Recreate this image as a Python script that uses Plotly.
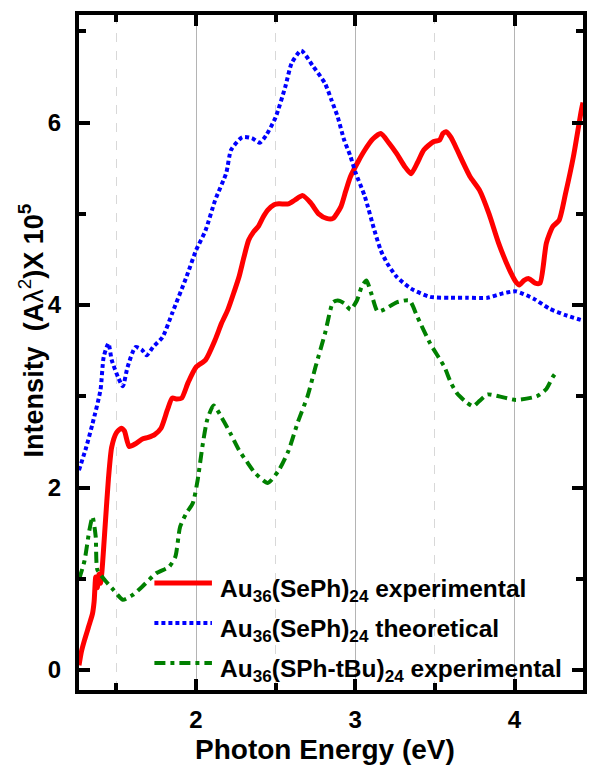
import plotly.graph_objects as go

# Red: Au36(SePh)24 experimental
red_x = [1.265, 1.28, 1.30, 1.33, 1.35, 1.36, 1.37, 1.38, 1.39, 1.40, 1.41, 1.43, 1.45, 1.47, 1.50,
         1.53, 1.55, 1.58, 1.62, 1.66, 1.70, 1.74, 1.78, 1.82, 1.85, 1.88, 1.91, 1.95, 2.00, 2.06,
         2.12, 2.16, 2.20, 2.24, 2.27, 2.30, 2.33, 2.36, 2.39, 2.42, 2.45, 2.49, 2.52, 2.58, 2.62,
         2.67, 2.72, 2.77, 2.82, 2.86, 2.91, 2.94, 2.97, 3.02, 3.06, 3.11, 3.16, 3.21, 3.26, 3.31,
         3.35, 3.39, 3.43, 3.49, 3.53, 3.55, 3.57, 3.60, 3.64, 3.68, 3.72, 3.78, 3.84, 3.90, 3.97,
         4.01, 4.03, 4.06, 4.09, 4.13, 4.16, 4.20, 4.24, 4.28, 4.32, 4.37, 4.42, 4.43]
red_y = [0.05, 0.20, 0.33, 0.50, 0.62, 0.75, 1.02, 0.90, 1.05, 0.95, 1.10, 1.60, 2.10, 2.44, 2.60,
         2.65, 2.62, 2.45, 2.48, 2.53, 2.55, 2.58, 2.65, 2.85, 2.98, 2.97, 2.98, 3.15, 3.32, 3.40,
         3.62, 3.80, 3.95, 4.15, 4.31, 4.52, 4.71, 4.80, 4.86, 4.96, 5.04, 5.10, 5.11, 5.11, 5.15,
         5.20, 5.12, 5.00, 4.95, 4.95, 5.08, 5.25, 5.41, 5.58, 5.70, 5.82, 5.88, 5.78, 5.66, 5.52,
         5.44, 5.56, 5.70, 5.79, 5.81, 5.88, 5.90, 5.84, 5.70, 5.55, 5.41, 5.26, 5.00, 4.68, 4.38,
         4.25, 4.22, 4.27, 4.29, 4.24, 4.24, 4.68, 4.86, 4.93, 5.22, 5.63, 6.14, 6.22]

# Blue: Au36(SePh)24 theoretical
blue_x = [1.265, 1.31, 1.35, 1.40, 1.42, 1.45, 1.47, 1.51, 1.54, 1.57, 1.62, 1.66, 1.69, 1.73, 1.79,
          1.85, 1.94, 2.00, 2.06, 2.12, 2.19, 2.22, 2.29, 2.35, 2.40, 2.44, 2.50, 2.56, 2.60, 2.66,
          2.73, 2.81, 2.85, 2.89, 2.93, 2.97, 3.00, 3.06, 3.12, 3.16, 3.20, 3.26, 3.35, 3.47, 3.60,
          3.70, 3.83, 3.93, 4.01, 4.12, 4.22, 4.32, 4.43]
blue_y = [2.19, 2.44, 2.70, 3.07, 3.43, 3.58, 3.40, 3.21, 3.11, 3.32, 3.54, 3.51, 3.45, 3.54, 3.65,
          3.91, 4.31, 4.60, 4.82, 5.15, 5.45, 5.70, 5.84, 5.83, 5.78, 5.86, 6.06, 6.39, 6.65, 6.79,
          6.63, 6.43, 6.25, 6.06, 5.81, 5.63, 5.46, 5.19, 4.82, 4.60, 4.46, 4.31, 4.18, 4.09, 4.08,
          4.08, 4.08, 4.13, 4.15, 4.07, 3.96, 3.89, 3.83]

# Green: Au36(SPh-tBu)24 experimental
green_x = [1.265, 1.30, 1.33, 1.35, 1.37, 1.38, 1.42, 1.48, 1.54, 1.60, 1.66, 1.75, 1.83, 1.87, 1.90,
           1.94, 1.98, 2.01, 2.04, 2.07, 2.11, 2.16, 2.22, 2.27, 2.32, 2.37, 2.45, 2.52, 2.58, 2.64,
           2.70, 2.75, 2.81, 2.86, 2.89, 2.93, 2.97, 3.01, 3.04, 3.07, 3.10, 3.14, 3.18, 3.26, 3.34,
           3.39, 3.47, 3.56, 3.60, 3.64, 3.70, 3.74, 3.78, 3.83, 3.90, 4.01, 4.14, 4.20, 4.24, 4.27]
green_y = [0.99, 1.20, 1.53, 1.68, 1.46, 1.10, 1.00, 0.88, 0.77, 0.82, 0.91, 1.06, 1.13, 1.24, 1.57,
           1.72, 1.83, 2.08, 2.45, 2.74, 2.90, 2.77, 2.58, 2.41, 2.28, 2.16, 2.05, 2.19, 2.40, 2.72,
           3.00, 3.32, 3.69, 4.03, 4.05, 4.02, 3.95, 4.05, 4.20, 4.27, 4.13, 3.93, 3.95, 4.03, 4.05,
           3.87, 3.58, 3.32, 3.15, 3.03, 2.93, 2.89, 2.95, 3.02, 3.00, 2.96, 3.00, 3.08, 3.21, 3.28]

names = ["Au<sub>36</sub>(SePh)<sub>24</sub> experimental",
         "Au<sub>36</sub>(SePh)<sub>24</sub> theoretical",
         "Au<sub>36</sub>(SPh-tBu)<sub>24</sub> experimental"]
colors = ["#ff0000", "#0000ff", "#008000"]
dashes = ["solid", "4px,3px", "11px,5px,4px,5px"]
widths = [5, 4, 4]

x_ticks = [2, 3, 4]
x_minor = [1.5, 2.5, 3.5]
y_ticks = [0, 2, 4, 6]
y_minor = [1, 3, 5, 7]

FONT = "Liberation Sans, Arial, sans-serif"

fig = go.Figure()
series = [(red_x, red_y), (blue_x, blue_y), (green_x, green_y)]
for (xs, ys), nm, c, d, w in zip(series, names, colors, dashes, widths):
    fig.add_trace(go.Scatter(x=xs, y=ys, mode="lines", name=nm, showlegend=False,
                             line=dict(color=c, dash=d, width=w, shape="spline", smoothing=0.6)))

# manual legend
L, R, T, B = 79, 2, 15, 75
PW, PH = 589 - L - R, 765 - T - B
def px2x(px):
    return (px - L) / PW
def py2y(py):
    return (765 - B - py) / PH

leg_rows = [583, 623, 663]
for nm, c, d, w, row in zip(names, colors, dashes, widths, leg_rows):
    fig.add_shape(type="line", xref="paper", yref="paper",
                  x0=px2x(155), x1=px2x(213), y0=py2y(row), y1=py2y(row),
                  line=dict(color=c, dash=d, width=w))
    fig.add_annotation(xref="paper", yref="paper", x=px2x(219), y=py2y(row + 7),
                       xanchor="left", yanchor="middle", showarrow=False, text=nm,
                       font=dict(family=FONT, size=24.5, color="black", weight="bold"))

fig.add_annotation(xref="paper", yref="paper", x=px2x(327), y=py2y(749),
                   xanchor="center", yanchor="middle", showarrow=False,
                   text="Photon Energy (eV)", borderpad=0,
                   font=dict(family=FONT, size=28, color="black", weight="bold"))
fig.add_annotation(xref="paper", yref="paper", x=px2x(31), y=py2y(330),
                   xanchor="center", yanchor="middle", showarrow=False, textangle=-90,
                   text="Intensity  (A<span style='font-weight:normal'>λ</span><sup><span style='font-weight:normal'>2</span></sup>)X 10<sup>5</sup>",
                   font=dict(family=FONT, size=27, color="black", weight="bold"))

axis_common = dict(showline=True, linewidth=4, linecolor="black", mirror="ticks",
                   ticks="inside", ticklen=11, tickwidth=4, tickcolor="black",
                   tickfont=dict(family=FONT, size=24, color="black", weight="bold"),
                   zeroline=False)

fig.update_xaxes(range=[1.265, 4.43], tickmode="array", tickvals=x_ticks,
                 showgrid=True, gridcolor="#b4b4b4", gridwidth=1,
                 minor=dict(tickmode="array", tickvals=x_minor, ticks="inside", ticklen=7,
                            tickwidth=4, tickcolor="black", showgrid=True,
                            gridcolor="#d8d8d8", griddash="dash", gridwidth=1),
                 ticklabelstandoff=5, **axis_common)
fig.update_yaxes(range=[-0.22, 7.18], tickmode="array", tickvals=y_ticks,
                 showgrid=False,
                 minor=dict(tickmode="array", tickvals=y_minor, ticks="inside", ticklen=7,
                            tickwidth=4, tickcolor="black", showgrid=False),
                 ticklabelstandoff=9, **axis_common)

fig.update_layout(width=589, height=765, margin=dict(l=L, r=R, t=T, b=B),
                  plot_bgcolor="white", paper_bgcolor="white", showlegend=False)

fig.write_html("out.html")
